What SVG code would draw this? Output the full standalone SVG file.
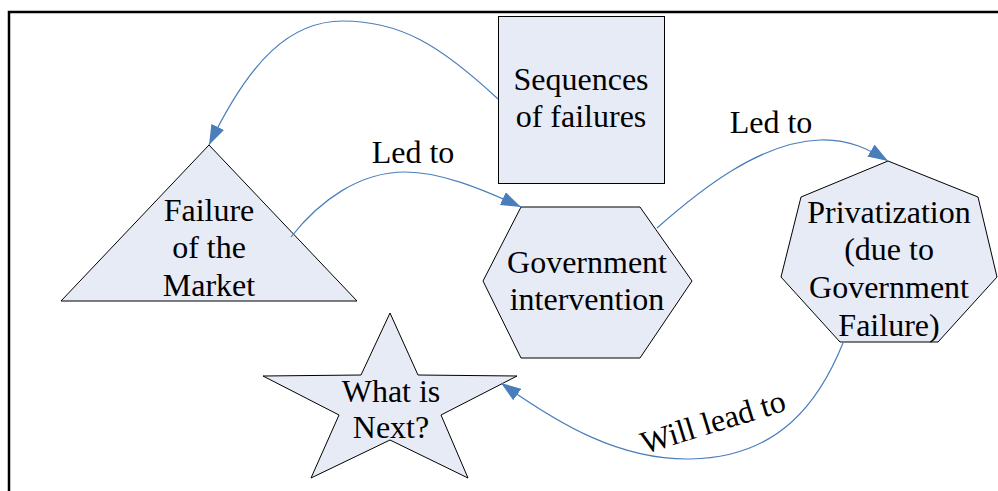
<svg xmlns="http://www.w3.org/2000/svg" width="998" height="491" viewBox="0 0 998 491">
<style>
.shape{fill:#E7EBF6;stroke:#000;stroke-width:1}
.t{font-family:'Liberation Serif',Tinos,'Times New Roman',Times,'DejaVu Serif','Noto Serif',serif;font-size:32px;fill:#000;text-anchor:middle}
.c{fill:none;stroke:#4A7EBB;stroke-width:1.2}
</style>
<defs>
<marker id="ah" markerUnits="userSpaceOnUse" viewBox="0 0 20 14" refX="20" refY="7" markerWidth="20" markerHeight="14" orient="auto">
<path d="M0,0 L20,7 L0,14 Z" fill="#4A7EBB"/>
</marker>
</defs>
<rect x="9" y="12" width="1000" height="500" fill="#fff" stroke="#000" stroke-width="2.5"/>
<g id="seq">
<rect class="shape" x="498.5" y="16.5" width="166" height="167"/>
<text class="t" x="581" y="90">Sequences</text>
<text class="t" x="581" y="127">of failures</text>
</g>
<g id="market">
<polygon class="shape" points="209,145 357,301 61,301"/>
<text class="t" x="209" y="221">Failure</text>
<text class="t" x="209" y="258">of the</text>
<text class="t" x="209" y="296">Market</text>
</g>
<g id="gov">
<polygon class="shape" points="521,207 640,207 692,281 640,358 521,358 483,281"/>
<text class="t" x="587" y="273">Government</text>
<text class="t" x="587" y="310">intervention</text>
</g>
<g id="priv">
<polygon class="shape" points="888,161 978,197 997,277 938,342 840,342 781,277 801,197"/>
<text class="t" x="889" y="223">Privatization</text>
<text class="t" x="889" y="260">(due to</text>
<text class="t" x="889" y="298">Government</text>
<text class="t" x="889" y="336">Failure)</text>
</g>
<g id="next">
<polygon class="shape" points="390,313 418,375 517,376 441,415 468,478 390,440 311,478 339,415 263,376 361,375"/>
<text class="t" x="391" y="402">What is</text>
<text class="t" x="391" y="438">Next?</text>
</g>
<g id="connectors">
<path class="c" marker-end="url(#ah)" d="M498,99 C440,45 400,21 343,21 C290,21 250,60 209,145"/>
<path class="c" marker-end="url(#ah)" d="M291,237 C320,200 360,172 405,172 C440,172 480,188 521,207"/>
<path class="c" marker-end="url(#ah)" d="M657,228 C700,190 760,142 820,140 C850,139 870,150 888,161"/>
<path class="c" marker-end="url(#ah)" d="M843,343 C820,400 780,458 690,459 C620,460 560,425 501,383"/>
<text class="t" x="413" y="163">Led to</text>
<text class="t" x="771" y="133">Led to</text>
<text class="t" x="716" y="432" transform="rotate(-17 716 432)">Will lead to</text>
</g>
</svg>
